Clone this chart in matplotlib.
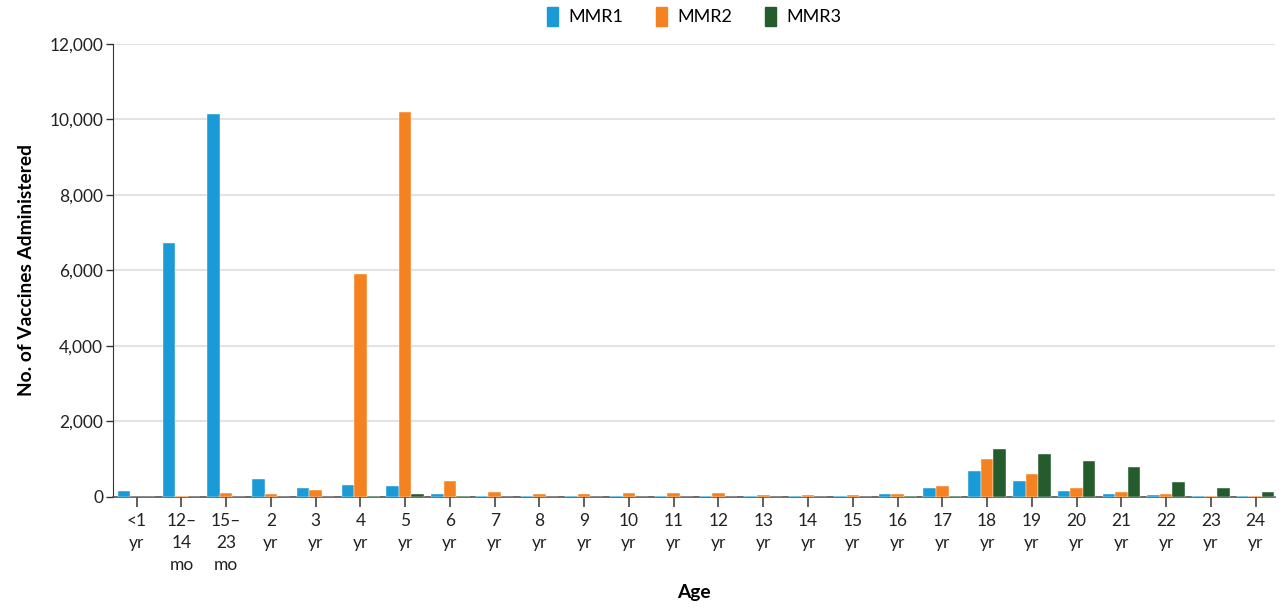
import numpy as np
import matplotlib.pyplot as plt
from matplotlib.patches import Patch

plt.rcParams['font.family'] = ['Lato', 'DejaVu Sans']

# === 資料 ===
ages = ["<1\nyr", "12–\n14\nmo", "15–\n23\nmo", "2\nyr", "3\nyr", "4\nyr", "5\nyr",
        "6\nyr", "7\nyr", "8\nyr", "9\nyr", "10\nyr", "11\nyr", "12\nyr", "13\nyr",
        "14\nyr", "15\nyr", "16\nyr", "17\nyr", "18\nyr", "19\nyr", "20\nyr",
        "21\nyr", "22\nyr", "23\nyr", "24\nyr"]
mmr1 = [140, 6720, 10130, 460, 220, 300, 285, 80, 20, 15, 15, 15, 15, 15, 15,
        15, 20, 70, 230, 680, 415, 140, 80, 40, 20, 10]
mmr2 = [0, 10, 110, 70, 190, 5900, 10180, 410, 115, 65, 70, 90, 110, 110, 45,
        45, 50, 85, 280, 1005, 610, 230, 130, 85, 30, 15]
mmr3 = [0, 0, 0, 0, 5, 30, 60, 10, 0, 0, 0, 0, 0, 0, 0,
        0, 0, 10, 10, 1265, 1130, 955, 800, 390, 230, 130]

c1, c2, c3 = "#1a9ad6", "#f58220", "#245c2e"

fig = plt.figure(figsize=(12.83, 6.08), dpi=100)
ax = fig.add_axes([0.088, 0.183, 0.906, 0.745])

x = np.arange(len(ages))
w = 0.28
ax.bar(x - w, mmr1, w, color=c1, edgecolor="white", linewidth=0.3, zorder=3)
ax.bar(x, mmr2, w, color=c2, edgecolor="white", linewidth=0.3, zorder=3)
ax.bar(x + w, mmr3, w, color=c3, edgecolor="white", linewidth=0.3, zorder=3)

ax.set_xlim(-0.53, len(ages) - 1 + 0.44)
ax.set_ylim(0, 12000)
ax.set_yticks(range(0, 12001, 2000))
ax.set_yticklabels([f"{v:,}" for v in range(0, 12001, 2000)], fontsize=12.5, color="#222222")
ax.set_xticks(x)
ax.set_xticklabels(ages, fontsize=12.5, color="#222222", linespacing=1.45)
ax.yaxis.grid(True, color="#e3e3e3", linewidth=1.5, zorder=0)
ax.set_axisbelow(True)

for s in ["top", "right"]:
    ax.spines[s].set_visible(False)
ax.spines["left"].set_color("#333333")
ax.spines["bottom"].set_color("#555555")
ax.spines["bottom"].set_linewidth(1.2)
ax.tick_params(axis="x", length=7, width=1.2, color="#444444", pad=5)
ax.tick_params(axis="y", length=5, width=1, color="#333333", pad=2)

ax.set_ylabel("No. of Vaccines Administered", fontsize=13.8, fontweight="bold", labelpad=10)
ax.set_xlabel("Age", fontsize=13.8, fontweight="bold", labelpad=8)

handles = [Patch(color=c1, label="MMR1"), Patch(color=c2, label="MMR2"), Patch(color=c3, label="MMR3")]
ax.legend(handles=handles, loc="upper center", bbox_to_anchor=(0.5, 1.118), ncol=3,
          frameon=False, fontsize=13, handlelength=0.6, handleheight=1.3,
          handletextpad=0.6, columnspacing=1.8)

plt.savefig("out.png", dpi=100)
plt.close()
